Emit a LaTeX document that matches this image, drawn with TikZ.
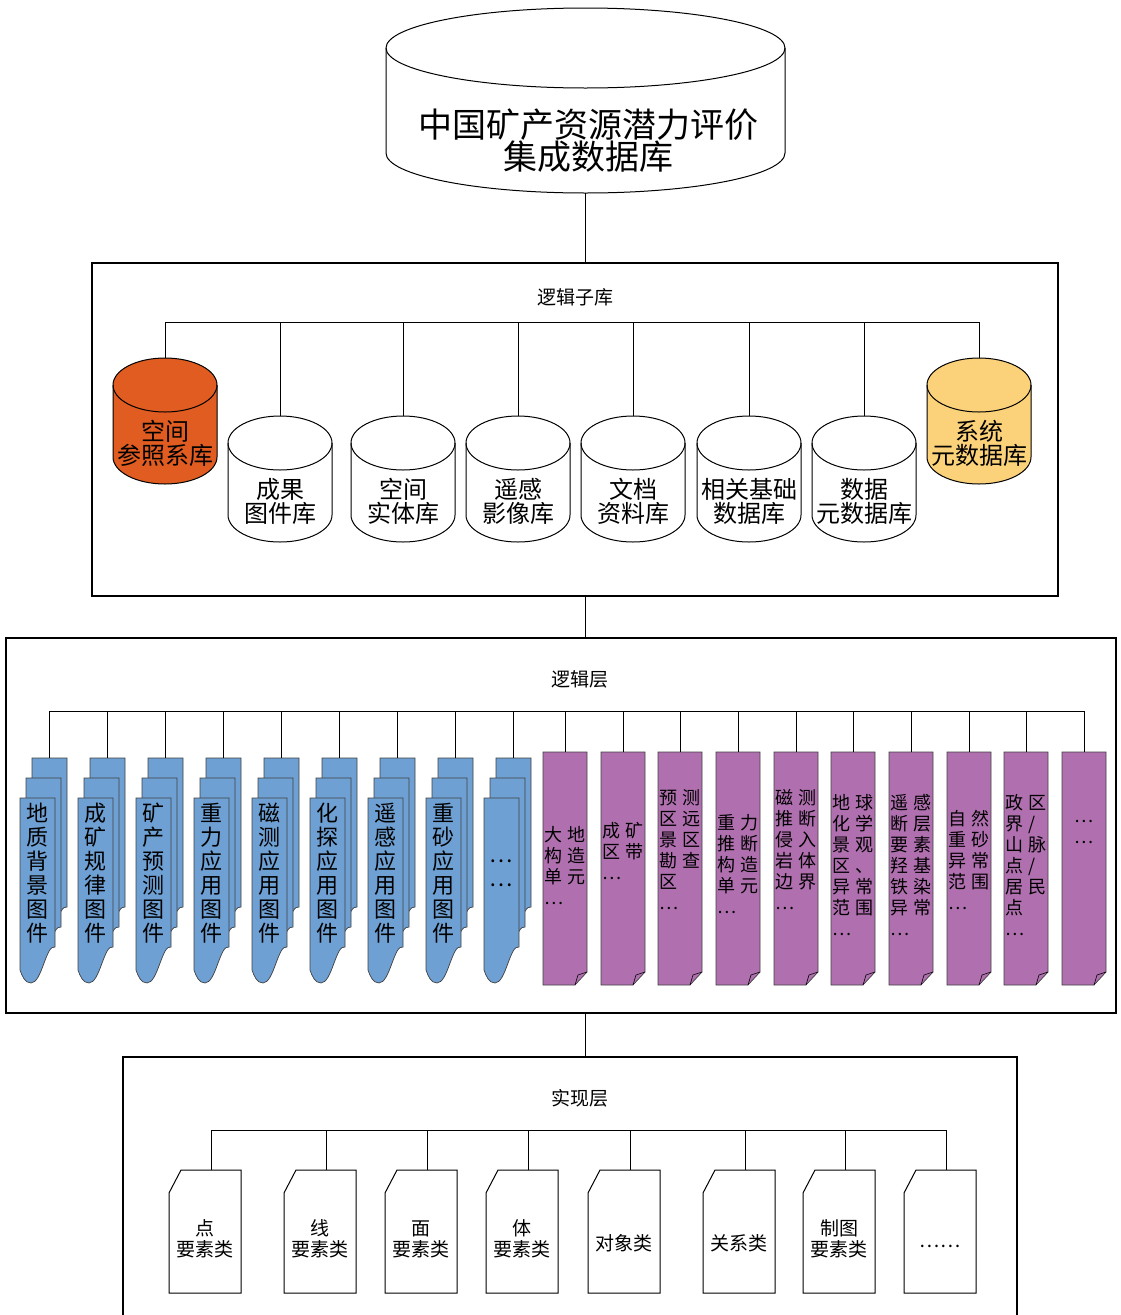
\documentclass[tikz,border=0pt]{standalone}
\usepackage{fontspec}
\setmainfont{Noto Sans CJK SC}
\usetikzlibrary{positioning}
\definecolor{dborange}{RGB}{224,92,33}
\definecolor{dbyellow}{RGB}{251,210,122}
\definecolor{docblue}{RGB}{110,160,211}
\definecolor{docpurple}{RGB}{176,112,175}

\begin{document}
\begin{tikzpicture}[
  x=1pt, y=-1pt,
  line width=1pt,
  layerbox/.style={draw,line width=1.3pt,inner sep=0pt},
  boxtitle/.style={inner sep=0pt,font=\fontsize{19}{22}\selectfont},
  cyltext/.style={align=center,inner sep=0pt,font=\fontsize{24}{24}\selectfont},
  bluetext/.style={align=center,inner sep=0pt,font=\fontsize{22}{24}\selectfont},
  purpletext/.style={align=left,inner sep=0pt,font=\fontsize{18}{21}\selectfont},
  cardtext/.style={align=center,inner sep=0pt,font=\fontsize{19}{21}\selectfont},
  ]
  \tikzset{%
    dbcyl/.pic={
      \filldraw[fill=#1] (0,27) -- (0,99)
        arc[start angle=180, end angle=360, x radius=52pt, y radius=27pt]
        -- (104,27)
        arc[start angle=0, end angle=180, x radius=52pt, y radius=27pt] -- cycle;
      \draw (0,27) arc[start angle=180, end angle=360, x radius=52pt, y radius=27pt];
      \coordinate (-top) at (52,0);
    },
    bluesheet/.pic={
      \filldraw[fill=docblue, draw=black!75, line width=0.7pt]
        (0,0) -- (35,0) -- (35,149)
        .. controls (26,146) and (22,185) .. (11,185)
        .. controls (5,185) and (2,178) .. (0,172) -- cycle;
    },
    bluestack/.pic={
      \pic at (12,0) {bluesheet};
      \pic at (6,20) {bluesheet};
      \pic at (0,40) {bluesheet};
      \coordinate (-top) at (29.5,0);
    },
    notepage/.pic={
      \filldraw[fill=docpurple, draw=black!75, line width=0.7pt]
        (0,0) -- (44,0) -- (44,220) -- (32,233) -- (0,233) -- cycle;
      \draw[line width=0.6pt] (32,233) -- (35,223) -- (44,220);
      \coordinate (-top) at (22,0);
    },
    classcard/.pic={
      \draw (0,23) -- (12,0) -- (72,0) -- (72,123) -- (0,123) -- cycle;
      \coordinate (-top) at (42,0);
    },
  }
  \useasboundingbox (0,0) rectangle (1120,1315);

  %Boxes
  \node[layerbox, minimum width=966, minimum height=333] (sub) at (575,429.5) {};
  \node[layerbox, minimum width=1110, minimum height=375] (layer) at (561,825.5) {};
  \node[layerbox, minimum width=894, minimum height=290] (impl) at (570,1202) {};
  \node[boxtitle, below=26pt of sub.north] (subt) {逻辑子库};
  \node[boxtitle, below=33pt of layer.north, xshift=19pt] (layert) {逻辑层};
  \node[boxtitle, below=33pt of impl.north, xshift=10pt] (implt) {实现层};

  %Top database
  \filldraw[fill=white] (386,48) -- (386,153)
    arc[start angle=180, end angle=360, x radius=199.5pt, y radius=40pt]
    -- (785,48)
    arc[start angle=0, end angle=180, x radius=199.5pt, y radius=40pt] -- cycle;
  \draw (386,48) arc[start angle=180, end angle=360, x radius=199.5pt, y radius=40pt];
  \node[align=center, inner sep=0pt, font=\fontsize{34}{32}\selectfont] (db) at (588,141)
    {中国矿产资源潜力评价\\集成数据库};
  \coordinate (dbbase) at (585,193);

  %Logical sub-libraries
  \pic (c1) at (113,358) {dbcyl=dborange};
  \pic (c2) at (228,416) {dbcyl=white};
  \pic (c3) at (351,416) {dbcyl=white};
  \pic (c4) at (466,416) {dbcyl=white};
  \pic (c5) at (581,416) {dbcyl=white};
  \pic (c6) at (697,416) {dbcyl=white};
  \pic (c7) at (812,416) {dbcyl=white};
  \pic (c8) at (927,358) {dbcyl=dbyellow};
  \node[cyltext] (c1t) at (165,443) {空间\\参照系库};
  \node[cyltext] (c2t) at (280,501) {成果\\图件库};
  \node[cyltext] (c3t) at (403,501) {空间\\实体库};
  \node[cyltext] (c4t) at (518,501) {遥感\\影像库};
  \node[cyltext] (c5t) at (633,501) {文档\\资料库};
  \node[cyltext] (c6t) at (749,501) {相关基础\\数据库};
  \node[cyltext] (c7t) at (864,501) {数据\\元数据库};
  \node[cyltext] (c8t) at (979,443) {系统\\元数据库};
  \coordinate (busA) at (575,322);

  %Logical layer
  \pic (g1) at (20,758) {bluestack};
  \pic (g2) at (78,758) {bluestack};
  \pic (g3) at (136,758) {bluestack};
  \pic (g4) at (194,758) {bluestack};
  \pic (g5) at (252,758) {bluestack};
  \pic (g6) at (310,758) {bluestack};
  \pic (g7) at (368,758) {bluestack};
  \pic (g8) at (426,758) {bluestack};
  \pic (g9) at (484,758) {bluestack};
  \node[bluetext] (g1t) at (37.5,873) {地\\质\\背\\景\\图\\件};
  \node[bluetext] (g2t) at (95.5,873) {成\\矿\\规\\律\\图\\件};
  \node[bluetext] (g3t) at (153.5,873) {矿\\产\\预\\测\\图\\件};
  \node[bluetext] (g4t) at (211.5,873) {重\\力\\应\\用\\图\\件};
  \node[bluetext] (g5t) at (269.5,873) {磁\\测\\应\\用\\图\\件};
  \node[bluetext] (g6t) at (327.5,873) {化\\探\\应\\用\\图\\件};
  \node[bluetext] (g7t) at (385.5,873) {遥\\感\\应\\用\\图\\件};
  \node[bluetext] (g8t) at (443.5,873) {重\\砂\\应\\用\\图\\件};
  \node[bluetext] (g9t) at (501.5,873) {…\\…};

  \pic (p1) at (543,752) {notepage};
  \pic (p2) at (601,752) {notepage};
  \pic (p3) at (658,752) {notepage};
  \pic (p4) at (716,752) {notepage};
  \pic (p5) at (774,752) {notepage};
  \pic (p6) at (831,752) {notepage};
  \pic (p7) at (889,752) {notepage};
  \pic (p8) at (947,752) {notepage};
  \pic (p9) at (1004,752) {notepage};
  \pic (p10) at (1062,752) {notepage};
  \node[purpletext] (p1t) at (565,866) {大 地\\构 造\\单 元\\…};
  \node[purpletext] (p2t) at (623,851) {成 矿\\区 带\\…};
  \node[purpletext] (p3t) at (680,850) {预 测\\区 远\\景 区\\勘 查\\区\\…};
  \node[purpletext] (p4t) at (738,864) {重 力\\推 断\\构 造\\单 元\\…};
  \node[purpletext] (p5t) at (796,850) {磁 测\\推 断\\侵 入\\岩 体\\边 界\\…};
  \node[purpletext] (p6t) at (853,865) {地 球\\化 学\\景 观\\区 、\\异 常\\范 围\\…};
  \node[purpletext] (p7t) at (911,865) {遥 感\\断 层\\要 素\\羟 基\\铁 染\\异 常\\…};
  \node[purpletext] (p8t) at (969,860) {自 然\\重 砂\\异 常\\范 围\\…};
  \node[purpletext] (p9t) at (1026,865) {政 区\\界 /\\山 脉\\点 /\\居 民\\点\\…};
  \node[purpletext] (p10t) at (1084,832) {…\\…};
  \coordinate (busB) at (568,711);

  %Implementation layer
  \pic (k1) at (169,1170) {classcard};
  \pic (k2) at (284,1170) {classcard};
  \pic (k3) at (385,1170) {classcard};
  \pic (k4) at (486,1170) {classcard};
  \pic (k5) at (588,1170) {classcard};
  \pic (k6) at (703,1170) {classcard};
  \pic (k7) at (803,1170) {classcard};
  \pic (k8) at (904,1170) {classcard};
  \node[cardtext] (k1t) at (205,1239) {点\\要素类};
  \node[cardtext] (k2t) at (320,1239) {线\\要素类};
  \node[cardtext] (k3t) at (421,1239) {面\\要素类};
  \node[cardtext] (k4t) at (522,1239) {体\\要素类};
  \node[cardtext] (k5t) at (624,1243) {对象类};
  \node[cardtext] (k6t) at (739,1243) {关系类};
  \node[cardtext] (k7t) at (839,1239) {制图\\要素类};
  \node[cardtext] (k8t) at (940,1246) {……};
  \coordinate (busC) at (578,1130);

  %Lines
  \draw (dbbase) -- (dbbase |- sub.north);
  \draw (dbbase |- sub.south) -- (dbbase |- layer.north);
  \draw (dbbase |- layer.south) -- (dbbase |- impl.north);

  \draw (c1-top |- busA) -- (c8-top |- busA);
  \draw
    (c1-top) edge (c1-top |- busA)
    (c2-top) edge (c2-top |- busA)
    (c3-top) edge (c3-top |- busA)
    (c4-top) edge (c4-top |- busA)
    (c5-top) edge (c5-top |- busA)
    (c6-top) edge (c6-top |- busA)
    (c7-top) edge (c7-top |- busA)
    (c8-top) edge (c8-top |- busA)
    ;

  \draw (g1-top |- busB) -- (p10-top |- busB);
  \draw
    (g1-top) edge (g1-top |- busB)
    (g2-top) edge (g2-top |- busB)
    (g3-top) edge (g3-top |- busB)
    (g4-top) edge (g4-top |- busB)
    (g5-top) edge (g5-top |- busB)
    (g6-top) edge (g6-top |- busB)
    (g7-top) edge (g7-top |- busB)
    (g8-top) edge (g8-top |- busB)
    (g9-top) edge (g9-top |- busB)
    (p1-top) edge (p1-top |- busB)
    (p2-top) edge (p2-top |- busB)
    (p3-top) edge (p3-top |- busB)
    (p4-top) edge (p4-top |- busB)
    (p5-top) edge (p5-top |- busB)
    (p6-top) edge (p6-top |- busB)
    (p7-top) edge (p7-top |- busB)
    (p8-top) edge (p8-top |- busB)
    (p9-top) edge (p9-top |- busB)
    (p10-top) edge (p10-top |- busB)
    ;

  \draw (k1-top |- busC) -- (k8-top |- busC);
  \draw
    (k1-top) edge (k1-top |- busC)
    (k2-top) edge (k2-top |- busC)
    (k3-top) edge (k3-top |- busC)
    (k4-top) edge (k4-top |- busC)
    (k5-top) edge (k5-top |- busC)
    (k6-top) edge (k6-top |- busC)
    (k7-top) edge (k7-top |- busC)
    (k8-top) edge (k8-top |- busC)
    ;
\end{tikzpicture}
\end{document}
